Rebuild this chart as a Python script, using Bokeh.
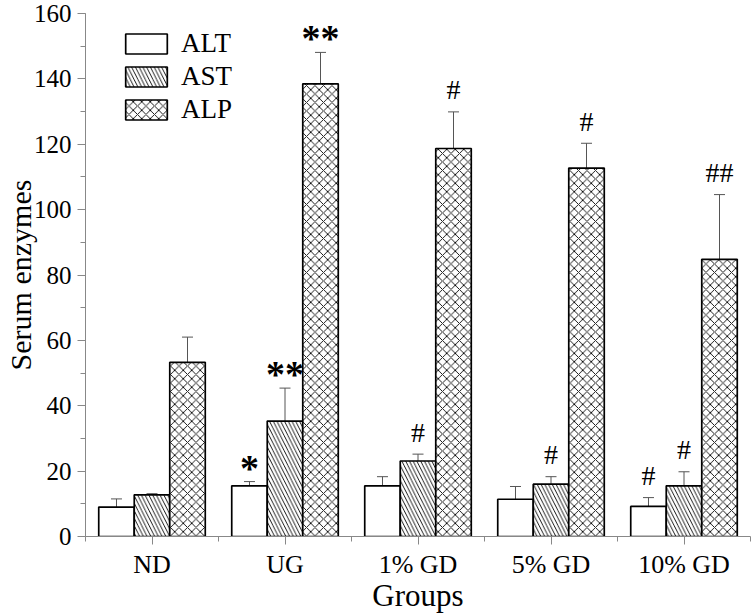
from bokeh.plotting import figure
from bokeh.models import (ColumnDataSource, Range1d, FixedTicker, SingleIntervalTicker,
                          Whisker, TeeHead, Legend, LegendItem)
from bokeh.transform import dodge
from bokeh.core.properties import value
from bokeh.embed import file_html
from bokeh.resources import INLINE

groups = ["ND", "UG", "1% GD", "5% GD", "10% GD"]
series = ["ALT", "AST", "ALP"]
alt = [9.0, 15.5, 15.5, 11.4, 9.2]
alt_err = [2.5, 1.3, 2.8, 3.9, 2.7]
ast = [12.75, 35.3, 23.1, 16.0, 15.5]
ast_err = [0.35, 10.1, 2.1, 2.3, 4.3]
alp = [53.3, 138.5, 118.7, 112.7, 84.8]
alp_err = [7.7, 9.6, 11.2, 7.6, 19.8]
alt_marks = ["", "*", "", "", "#"]
ast_marks = ["", "**", "#", "#", "#"]
alp_marks = ["", "**", "#", "#", "##"]
x_title = "Groups"
y_title = "Serum enzymes"

FONT = "Liberation Serif"
BAR_W = 0.267
offsets = [-BAR_W, 0.0, BAR_W]
hatches = [" ", "\\", "x"]
hatch_scales = [7, 7.5, 8.5]
vals = [alt, ast, alp]
errs = [alt_err, ast_err, alp_err]
marks = [alt_marks, ast_marks, alp_marks]

p = figure(width=751, height=615, output_backend="svg", toolbar_location=None,
           x_range=Range1d(-0.5, 4.5), y_range=Range1d(0, 160),
           min_border_top=13, min_border_right=1, min_border_left=60, min_border_bottom=60)
p.outline_line_color = None
p.xgrid.grid_line_color = None
p.ygrid.grid_line_color = None
p.background_fill_color = "white"

idx = list(range(len(groups)))
renderers = []
for k, name in enumerate(series):
    upper = [v + e for v, e in zip(vals[k], errs[k])]
    src = ColumnDataSource(dict(idx=idx, top=vals[k], upper=upper))
    w = Whisker(base=dodge("idx", offsets[k]), lower="top", upper="upper", source=src,
                line_color="#555555", line_width=1,
                upper_head=TeeHead(size=11, line_color="#555555", line_width=1),
                lower_head=None, level="underlay")
    p.add_layout(w)
    r = p.vbar(x=dodge("idx", offsets[k]), top="top", width=BAR_W, bottom=0, source=src,
               fill_color="white", line_color="black", line_width=1.7,
               hatch_pattern=hatches[k], hatch_color="black", hatch_scale=hatch_scales[k],
               hatch_weight=0.9)
    renderers.append(r)

# significance annotations
star_x, star_y, star_t = [], [], []
hash_x, hash_y, hash_t = [], [], []
for k in range(3):
    for i in idx:
        m = marks[k][i]
        if not m:
            continue
        up = vals[k][i] + errs[k][i]
        if "*" in m:
            star_x.append(i + offsets[k]); star_y.append(up); star_t.append(m)
        else:
            hash_x.append(i + offsets[k]); hash_y.append(up); hash_t.append(m)

p.text(x=star_x, y=star_y, text=star_t, text_font=value(FONT), text_font_style="bold",
       text_font_size="38px", text_align="center", text_baseline="middle",
       y_offset=-14, text_color="black")
p.text(x=hash_x, y=hash_y, text=hash_t, text_font=value(FONT),
       text_font_size="28px", text_align="center", text_baseline="middle",
       y_offset=-22, text_color="black")

# axes
for ax in (p.xaxis[0], p.yaxis[0]):
    ax.axis_line_color = "#888888"
    ax.major_tick_line_color = "#888888"
    ax.minor_tick_line_color = "#888888"
    ax.major_tick_in = 0
    ax.minor_tick_in = 0
    ax.major_tick_out = 8
    ax.minor_tick_out = 5
    ax.major_label_text_font = FONT
    ax.major_label_text_color = "black"
    ax.axis_label_text_font = FONT
    ax.axis_label_text_font_style = "normal"
    ax.axis_label_text_color = "black"

p.xaxis.ticker = FixedTicker(ticks=idx, minor_ticks=[i - 0.5 for i in range(len(groups) + 1)])
p.xaxis.major_label_overrides = {i: g for i, g in zip(idx, groups)}
p.xaxis.major_label_text_font_size = "26px"
p.xaxis.axis_label = x_title
p.xaxis.axis_label_text_font_size = "31px"
p.xaxis.major_label_standoff = 5
p.xaxis.axis_label_standoff = -4

p.yaxis.ticker = SingleIntervalTicker(interval=20, num_minor_ticks=2)
p.yaxis.major_label_text_font_size = "25px"
p.yaxis.axis_label = y_title
p.yaxis.axis_label_text_font_size = "30px"
p.yaxis.major_label_standoff = 6
p.yaxis.axis_label_standoff = -6

legend = Legend(items=[LegendItem(label=s, renderers=[r]) for s, r in zip(series, renderers)],
                location=(35, 411), glyph_width=52, glyph_height=25, label_standoff=9,
                spacing=2, padding=0, margin=0, border_line_color=None,
                background_fill_alpha=0, label_text_font=FONT, label_text_font_size="27px",
                label_height=25, label_text_color="black")
p.add_layout(legend, "center")

open("out.html", "w").write(file_html(p, INLINE))
